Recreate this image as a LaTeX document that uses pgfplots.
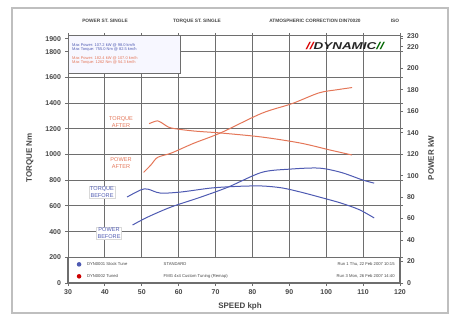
\documentclass[border=0pt]{standalone}
\usepackage{fontspec}
\setmainfont{Liberation Sans}
\usepackage{pgfplots}
\pgfplotsset{compat=1.18}
\definecolor{redc}{RGB}{228,118,88}
\definecolor{bluec}{RGB}{78,90,178}
\definecolor{gridc}{RGB}{110,110,110}
\definecolor{txtc}{RGB}{70,70,70}
\begin{document}
\begin{tikzpicture}[x=1bp,y=1bp]
\useasboundingbox (0,0) rectangle (452,318);
\draw[black!25, line width=1.6bp] (12,5) rectangle (448,310);
% header
\begin{scope}[every node/.style={font=\fontsize{4.8}{5}\selectfont\bfseries, text=txtc}]
\node at (105,297) {POWER ST. SINGLE};
\node at (197,297) {TORQUE ST. SINGLE};
\node at (315,297) {ATMOSPHERIC CORRECTION DIN70020};
\node at (395,297) {ISO};
\end{scope}
\begin{axis}[at={(68bp,35bp)}, anchor=south west, width=332bp, height=247bp, scale only axis,
  xmin=30, xmax=120, ymin=0, ymax=1922,
  xtick={30,40,...,120}, ytick={0,200,...,1800},
  extra y ticks={1900}, extra y tick style={grid=none},
  grid=major, grid style={gridc, line width=1bp},
  axis line style={gridc, line width=1bp},
  tick align=outside, major tick length=3bp, tick style={gridc, line width=0.9bp},
  ticklabel style={font=\fontsize{7}{8}\selectfont\bfseries, text=txtc},
  /pgf/number format/assume math mode=true,
  /pgf/number format/1000 sep={},
  yticklabel style={xshift=-0.5bp},
  axis on top=false, clip=false]
\addplot[redc, line width=1bp, smooth] coordinates {
 (52,1240) (54.3,1262) (56,1235) (58,1206) (64,1183) (71.5,1167) (82.5,1136) (93,1089) (101,1035) (107,996)};
\addplot[bluec, line width=1bp, smooth] coordinates {
 (46,669) (49.7,724) (51.6,731) (55,700) (60.6,708) (68.8,739) (76,752) (82.5,755) (88,740) (93,708) (98,670) (104,622) (109,570) (113,506)};
% info box bottom
\draw[gridc, line width=1.4bp, fill=white] (axis cs:30,0) rectangle (axis cs:120,200);
\fill[bluec] (axis cs:33,145) circle (2.3bp);
\fill[red!80!black] (axis cs:33,52) circle (2.3bp);
\node[anchor=west, font=\fontsize{4.2}{4.5}\selectfont, text=txtc] at (axis cs:34.2,145) {DYN0001 Stock Tune};
\node[anchor=west, font=\fontsize{4.2}{4.5}\selectfont, text=txtc] at (axis cs:34.2,52) {DYN0002 Tuned};
\node[anchor=west, font=\fontsize{4.2}{4.5}\selectfont, text=txtc] at (axis cs:55,145) {STANDARD};
\node[anchor=west, font=\fontsize{4.2}{4.5}\selectfont, text=txtc] at (axis cs:55,52) {FMG 4x4 Custom Tuning (Remap)};
\node[anchor=east, font=\fontsize{4.2}{4.5}\selectfont, text=txtc] at (axis cs:119.5,145) {Run 1 Thu, 22 Feb 2007 10:15};
\node[anchor=east, font=\fontsize{4.2}{4.5}\selectfont, text=txtc] at (axis cs:119.5,52) {Run 3 Mon, 26 Feb 2007 14:40};
% top-left legend box
\draw[gridc, line width=1bp, fill=blue!3] (axis cs:30,1634) rectangle (axis cs:60.4,1922);
\end{axis}
\begin{axis}[at={(68bp,35bp)}, anchor=south west, width=332bp, height=247bp, scale only axis,
  xmin=30, xmax=120, ymin=0, ymax=230,
  axis x line=none, axis y line*=right,
  ytick={0,20,...,220,230},
  axis line style={gridc, line width=1bp},
  tick align=outside, major tick length=3bp, tick style={gridc, line width=0.9bp},
  ticklabel style={font=\fontsize{7}{8}\selectfont\bfseries, text=txtc},
  /pgf/number format/assume math mode=true,
  yticklabel style={xshift=0.5bp}]
\addplot[redc, line width=1bp, smooth] coordinates {
 (50.5,103) (52.5,110) (54.3,117) (58,121) (64,130) (71.5,140) (82.5,158) (90.7,167) (98,177) (103,180) (107,182)};
\addplot[bluec, line width=1bp, smooth] coordinates {
 (47.5,54) (51.6,61.4) (57.9,70.7) (66,80) (73.4,89.3) (82.5,103) (90,106) (98,107) (104,103) (109.8,96) (113,93)};
\end{axis}
% legend text top-left
\begin{scope}[every node/.style={anchor=west, font=\fontsize{4}{4.5}\selectfont, inner sep=0pt}]
\node[text=bluec] at (72,273) {Max Power: 107.2 kW @ 98.0 km/h};
\node[text=bluec] at (72,268.5) {Max Torque: 755.0 Nm @ 82.5 km/h};
\node[text=redc] at (72,260) {Max Power: 182.4 kW @ 107.0 km/h};
\node[text=redc] at (72,255.5) {Max Torque: 1262 Nm @ 54.3 km/h};
\end{scope}
% curve labels
\begin{scope}[every node/.style={align=center, font=\fontsize{5.6}{6.4}\selectfont, inner sep=1pt, fill=white}]
\node[text=redc] at (121,196) {TORQUE\\AFTER};
\node[text=redc] at (121,155) {POWER\\AFTER};
\node[text=bluec, draw=black!15] at (102,126) {TORQUE\\BEFORE};
\node[text=bluec, draw=black!15] at (109,85) {POWER\\BEFORE};
\end{scope}
% logo
\node[anchor=center, font=\fontsize{10}{11}\selectfont\bfseries\itshape] at (345,272)
  {\scalebox{1.35}[1]{\textcolor{red!85!black}{//}\textcolor{black!85}{DYNAMIC}\textcolor{green!40!black}{//}}};
% axis titles
\node[rotate=90, font=\fontsize{8}{9}\selectfont\bfseries, text=txtc] at (30,160) {TORQUE Nm};
\node[rotate=90, font=\fontsize{8}{9}\selectfont\bfseries, text=txtc] at (431,160) {POWER kW};
\node[font=\fontsize{8}{9}\selectfont\bfseries, text=txtc] at (240,12) {SPEED kph};
\end{tikzpicture}
\end{document}
